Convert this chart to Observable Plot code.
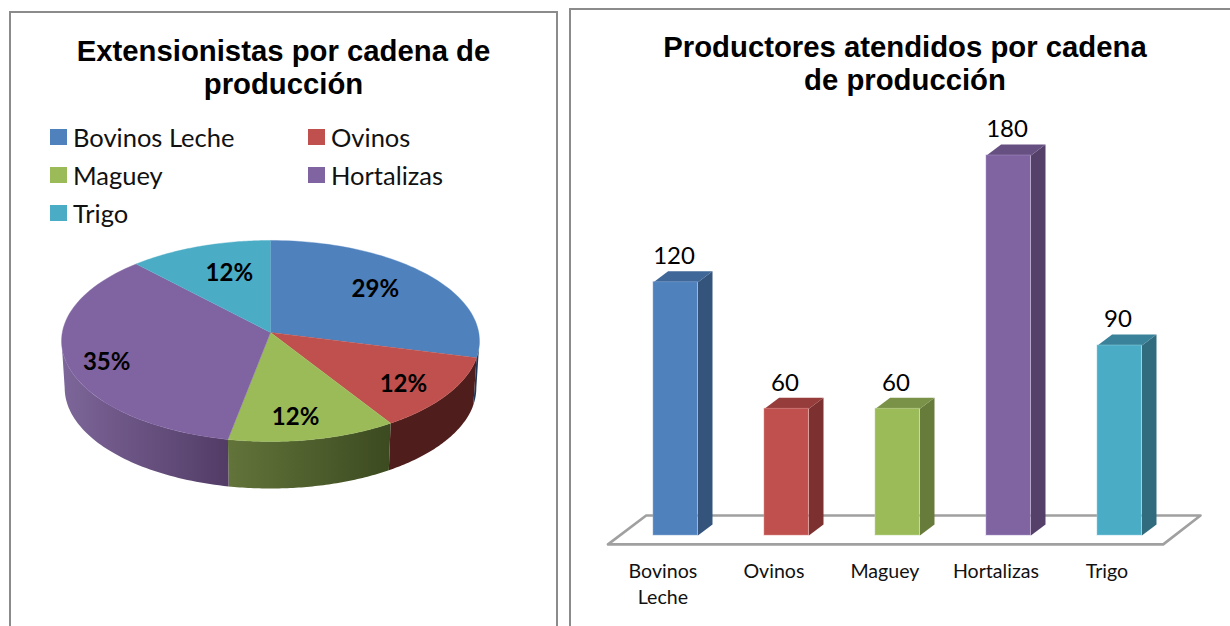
<!DOCTYPE html>
<html lang="es">
<head>
<meta charset="utf-8">
<title>Cadenas de producción</title>
<script src="https://cdn.jsdelivr.net/npm/d3@7"></script>
<script src="https://cdn.jsdelivr.net/npm/@observablehq/plot@0.6"></script>
<style>
  html, body { margin: 0; background: #fff; }
  #page { position: relative; width: 1230px; height: 626px; overflow: hidden; background: #fff; }
  .frame { position: absolute; border: 2px solid #8b8b8b; box-sizing: border-box; }
  #frameL { left: 9px; top: 11px; width: 549px; height: 640px; }
  #frameR { left: 569px; top: 8px; width: 700px; height: 640px; }
  .title { position: absolute; font: bold 29.3px/33px "Liberation Sans", Arial, sans-serif; color: #000; text-align: center; white-space: nowrap; }
  #titleL { left: 9px; width: 549px; top: 34px; }
  #titleR { left: 605px; width: 600px; top: 30px; }
  .chart { position: absolute; top: 0; }
  .chart svg { display: block; }
  #pie { left: 0; }
  #bars { left: 570px; }
  .lg { position: absolute; font: 25.5px/30px Lato, "Noto Sans", sans-serif; color: #111; white-space: nowrap; }
  .lg i { position: absolute; left: -23px; top: 7px; width: 16.5px; height: 16px; }
</style>
</head>
<body>
<div id="page">
  <div class="frame" id="frameL"></div>
  <div class="frame" id="frameR"></div>
  <div class="title" id="titleL">Extensionistas por cadena de<br>producción</div>
  <div class="title" id="titleR">Productores atendidos por cadena<br>de producción</div>
  <div class="chart" id="pie"></div>
  <div class="chart" id="bars"></div>
</div>
<script>
// ---- values ----
const categories = ["Bovinos Leche", "Ovinos", "Maguey", "Hortalizas", "Trigo"];
const axisLabels = ["Bovinos\nLeche", "Ovinos", "Maguey", "Hortalizas", "Trigo"];
const extensionistas = [29, 12, 12, 35, 12];
const productores = [120, 60, 60, 180, 90];

// ---- styling ----
const faceColors = ["#4f81bd", "#c0504d", "#9bbb59", "#8064a2", "#4bacc6"];
const sideColors = ["#34547c", "#7c3130", "#677b3a", "#544068", "#316c7e"];
const capColors = ["#3f6797", "#963c3a", "#7a9247", "#664f81", "#3a8299"];
const edgeColors = ["#8dabd4", "#d98c8a", "#c2d79a", "#a996c4", "#8fd0e0"];
const wallFills = ["#22385a", "#4f1e1c", "url(#wallGreen)", "url(#wallPurple)", "#2d6a7a"];
const labelSpread = [[.67, .75], [.75, .84], [.59, .79], [.8, 1.05], [.58, .69]];

// ---- legend (real text) ----
const page = document.getElementById("page");
const legendPlaces = [[73, 122], [331, 122], [73, 160], [331, 160], [73, 198]];
categories.forEach((c, i) => {
  const el = document.createElement("div");
  el.className = "lg";
  el.style.left = legendPlaces[i][0] + "px";
  el.style.top = legendPlaces[i][1] + "px";
  el.textContent = c;
  const sw = document.createElement("i");
  sw.style.background = faceColors[i];
  el.appendChild(sw);
  page.appendChild(el);
});

// ---- 3D pie: a tilted disc seen in perspective ----
const cx = 270, cy = 332, rx = 208.2, ry = 99.8, tilt = 0.0845, depth = 47, shrink = 0.985;
const topPoint = (a) => {
  const den = 1 + tilt * Math.cos(a);
  return {x: cx + rx * Math.sin(a) / den, y: cy - ry * Math.cos(a) / den};
};
const basePoint = (a) => {
  const p = topPoint(a);
  return {x: cx + (p.x - cx) * shrink, y: p.y + depth};
};
const arcs = d3.pie().sort(null).value((d) => d)(extensionistas);
const sweep = (a0, a1) => d3.range(0, 61).map((k) => a0 + (a1 - a0) * k / 60);
const limb = Math.acos(-tilt);

const defs = () => {
  const d = d3.create("svg:defs");
  [["wallGreen", "#62743a", "#3c4a20"], ["wallPurple", "#7d6699", "#523c66"]].forEach(([id, a, b]) => {
    const g = d.append("linearGradient").attr("id", id);
    g.append("stop").attr("offset", "0").attr("stop-color", a);
    g.append("stop").attr("offset", "1").attr("stop-color", b);
  });
  return d.node();
};

const walls = arcs.flatMap((s, i) => {
  const a0 = Math.max(s.startAngle, limb);
  const a1 = Math.min(s.endAngle, 2 * Math.PI - limb);
  if (a1 <= a0) return [];
  const pts = [...sweep(a0, a1).map(topPoint), ...sweep(a0, a1).reverse().map(basePoint)];
  return [Plot.line(pts, {x: "x", y: "y", fill: wallFills[i], stroke: "none", curve: "linear"})];
});
const slices = arcs.map((s, i) =>
  Plot.line([{x: cx, y: cy}, ...sweep(s.startAngle, s.endAngle).map(topPoint)],
    {x: "x", y: "y", fill: faceColors[i], stroke: faceColors[i], strokeWidth: 0.4, curve: "linear"}));
const pieLabels = arcs.map((s, i) => {
  const mid = (s.startAngle + s.endAngle) / 2;
  const p = topPoint(mid);
  return {
    x: cx + (p.x - cx) * labelSpread[i][0],
    y: cy + (p.y - cy) * labelSpread[i][1],
    text: `${s.data}%`
  };
});

document.getElementById("pie").appendChild(Plot.plot({
  width: 563, height: 626, margin: 0,
  style: {background: "transparent", overflow: "visible"},
  x: {domain: [0, 563], range: [0, 563], axis: null},
  y: {domain: [0, 626], range: [0, 626], axis: null},
  marks: [
    defs,
    ...walls,
    ...slices,
    Plot.text(pieLabels, {x: "x", y: "y", text: "text", fontSize: 24, fontWeight: 700,
      fontFamily: "Lato, 'Noto Sans', sans-serif", fill: "#000"})
  ]
}));

// ---- 3D columns ----
const half = 0.2, runX = 0.1315, runY = 5.2;
const rows = categories.map((c, i) => ({i, c, v: productores[i], axis: axisLabels[i]}));
const floor = [
  {x: -0.61, y: -4.2}, {x: -0.266, y: 9.5}, {x: 4.728, y: 9.5}, {x: 4.392, y: -4.2}, {x: -0.61, y: -4.2}
];
const columns = rows.flatMap((r) => {
  const L = r.i - half, R = r.i + half, H = r.v;
  const side = [{x: R, y: 0}, {x: R + runX, y: runY}, {x: R + runX, y: H + runY}, {x: R, y: H}];
  const cap = [{x: L, y: H}, {x: R, y: H}, {x: R + runX, y: H + runY}, {x: L + runX, y: H + runY}];
  return [
    Plot.line(side, {x: "x", y: "y", fill: sideColors[r.i], stroke: "none", curve: "linear"}),
    Plot.line(cap, {x: "x", y: "y", fill: capColors[r.i], stroke: "none", curve: "linear"}),
    Plot.rectY([r], {x1: () => L, x2: () => R, y1: () => 0, y2: "v", fill: faceColors[r.i],
      stroke: edgeColors[r.i], strokeWidth: 1, strokeOpacity: 0.5, inset: 0})
  ];
});

document.getElementById("bars").appendChild(Plot.plot({
  width: 660, height: 626, margin: 0,
  style: {background: "transparent", overflow: "visible"},
  x: {domain: [0, 4], range: [105.2, 549.2], axis: null},
  y: {domain: [0, 180], range: [535, 155], axis: null},
  marks: [
    Plot.line(floor, {x: "x", y: "y", stroke: "#a0a0a0", strokeWidth: 2.6, curve: "linear"}),
    ...columns,
    Plot.text(rows, {x: (d) => d.i - 0.015, y: "v", text: (d) => String(d.v), dy: -26,
      fontSize: 24, fontFamily: "Lato, 'Noto Sans', sans-serif", fill: "#000"}),
    Plot.text(rows, {x: (d) => d.i - 0.115, y: () => -11.6, text: "axis", lineAnchor: "top", lineHeight: 1.3,
      fontSize: 19.6, fontFamily: "Lato, 'Noto Sans', sans-serif", fill: "#111"})
  ]
}));
</script>
</body>
</html>
